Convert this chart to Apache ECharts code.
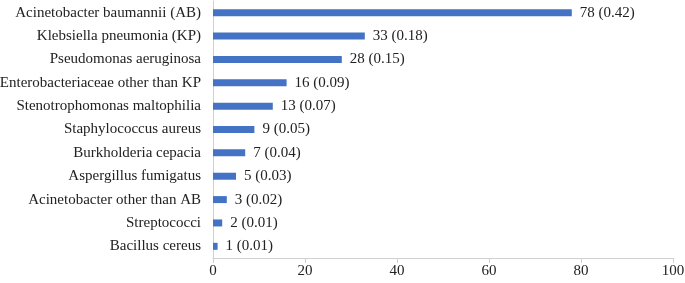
<!DOCTYPE html>
<html>
<head>
<meta charset="utf-8">
<script src="https://cdn.jsdelivr.net/npm/echarts@6/dist/echarts.min.js"></script>
<style>
  html, body { margin: 0; padding: 0; background: #fff; }
  #chart { width: 685px; height: 283px; }
</style>
</head>
<body>
<div id="chart"></div>
<script>
// categories top to bottom
const categories = [
  'Acinetobacter baumannii (AB)',
  'Klebsiella pneumonia (KP)',
  'Pseudomonas aeruginosa',
  'Enterobacteriaceae other than KP',
  'Stenotrophomonas maltophilia',
  'Staphylococcus aureus',
  'Burkholderia cepacia',
  'Aspergillus fumigatus',
  'Acinetobacter other than AB',
  'Streptococci',
  'Bacillus cereus'
];
const counts = [78, 33, 28, 16, 13, 9, 7, 5, 3, 2, 1];
const shares = ['0.42', '0.18', '0.15', '0.09', '0.07', '0.05', '0.04', '0.03', '0.02', '0.01', '0.01'];
const xTicks = { min: 0, max: 100, interval: 20 };

const font = '"Liberation Serif", "Times New Roman", serif';
const myChart = echarts.init(document.getElementById('chart'));
myChart.setOption({
  animation: false,
  grid: { left: 213, right: 12, top: 1, bottom: 25, containLabel: false, outerBoundsMode: 'none' },
  xAxis: {
    type: 'value',
    min: xTicks.min,
    max: xTicks.max,
    interval: xTicks.interval,
    splitLine: { show: false },
    axisLine: { show: true, lineStyle: { color: '#d0d0d0', width: 1 } },
    axisTick: { show: true, length: 5, lineStyle: { color: '#d0d0d0' } },
    axisLabel: { fontFamily: font, fontSize: 15, color: '#222', margin: 6 }
  },
  yAxis: {
    type: 'category',
    inverse: true,
    data: categories,
    axisLine: { show: true, lineStyle: { color: '#d0d0d0', width: 1 } },
    axisTick: { show: false },
    axisLabel: { fontFamily: font, fontSize: 15, color: '#222', margin: 12, interval: 0 }
  },
  series: [{
    type: 'bar',
    data: counts,
    barWidth: 7,
    itemStyle: { color: '#4472C4' },
    label: {
      show: true,
      position: 'right',
      distance: 8,
      fontFamily: font,
      fontSize: 15,
      color: '#222',
      formatter: p => p.value + ' (' + shares[p.dataIndex] + ')'
    }
  }]
});
window.onresize = function () { myChart.resize(); };
</script>
</body>
</html>
